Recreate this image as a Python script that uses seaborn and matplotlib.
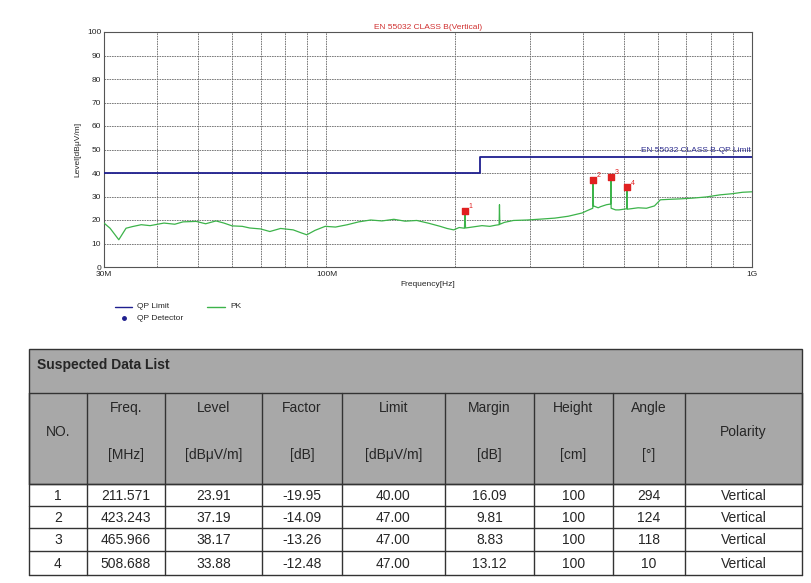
import matplotlib
matplotlib.use("Agg")
import matplotlib.pyplot as plt
import seaborn as sns
import pandas as pd
import numpy as np
from matplotlib.patches import Rectangle
from matplotlib.ticker import FixedLocator, NullFormatter

sns.set_style("white")
plt.rcParams['font.family'] = ['Liberation Sans', 'DejaVu Sans']

# PK trace (MHz, dBuV/m)
pk_freq = [30, 31, 32.5, 33.8, 35, 36.7, 38.5, 41.5, 44, 46, 49.4, 52, 55, 57.4, 60, 63.4, 66, 70, 73.6,
           78, 83.5, 87, 89.9, 94, 99.3, 105, 112, 119, 127, 135, 144, 153, 163, 174, 185, 192, 199,
           205, 211.0, 211.571, 212.2, 220, 232, 242, 250, 254.5, 255, 255.5, 262, 275, 296, 320, 344,
           370, 399, 410, 422.5, 423.243, 424, 435, 441, 455, 465.3, 465.966, 466.6, 478, 487, 500,
           508.0, 508.688, 509.4, 520, 540, 565, 590, 609, 640, 680, 724, 780, 841, 900, 950, 1000]
pk_level = [18.7, 16.5, 11.6, 16.5, 17.2, 18.0, 17.6, 18.7, 18.2, 19.2, 19.4, 18.4, 19.6, 18.7, 17.5, 17.3, 16.6, 16.2, 15.1,
            16.4, 15.8, 14.6, 13.7, 15.6, 17.3, 17.0, 18.0, 19.2, 20.0, 19.6, 20.3, 19.5, 19.8, 18.6, 17.3, 16.4, 15.8,
            16.8, 16.5, 23.9, 16.6, 17.0, 17.6, 17.3, 17.8, 18.0, 26.5, 18.2, 19.0, 19.8, 20.0, 20.4, 20.8,
            21.6, 23.0, 24.0, 25.0, 37.2, 26.0, 25.2, 25.7, 26.5, 26.8, 38.2, 25.0, 24.3, 24.3, 24.6,
            24.8, 33.9, 24.6, 24.8, 25.2, 25.0, 26.0, 28.6, 28.8, 29.0, 29.3, 29.8, 30.7, 31.2, 31.8, 32.0]

limit_freq = [30, 230, 230, 1000]
limit_level = [40, 40, 47, 47]

mk_no = ["1", "2", "3", "4"]
mk_freq = [211.571, 423.243, 465.966, 508.688]
mk_level = [23.91, 37.19, 38.17, 33.88]
mk_factor = ["-19.95", "-14.09", "-13.26", "-12.48"]
mk_limit = ["40.00", "47.00", "47.00", "47.00"]
mk_margin = ["16.09", "9.81", "8.83", "13.12"]
mk_height = ["100", "100", "100", "100"]
mk_angle = ["294", "124", "118", "10"]
mk_pol = ["Vertical", "Vertical", "Vertical", "Vertical"]

headers_top = ["NO.", "Freq.", "Level", "Factor", "Limit", "Margin", "Height", "Angle", "Polarity"]
headers_bot = ["", "[MHz]", "[dBμV/m]", "[dB]", "[dBμV/m]", "[dB]", "[cm]", "[°]", ""]

W, H = 812, 583
fig = plt.figure(figsize=(W / 100, H / 100), dpi=100)

# ---- table (pixel coordinate axes) ----
tb = fig.add_axes([0, 0, 1, 1])
tb.set_xlim(0, W); tb.set_ylim(H, 0); tb.axis("off")
cols = [29, 87, 165, 262, 342, 445, 534, 613, 685, 802]
rows = [349, 393, 484, 506, 528, 551, 575]
gray = "#a8a8a8"
tb.add_patch(Rectangle((cols[0], rows[0]), cols[-1] - cols[0], rows[2] - rows[0], fc=gray, ec="#333", lw=1))
tb.text(cols[0] + 8, (rows[0] + rows[1]) / 2 - 6, "Suspected Data List", fontsize=10, fontweight="bold", va="center")
tb.plot([cols[0], cols[-1]], [rows[1], rows[1]], color="#333", lw=1)
for c in cols:
    tb.plot([c, c], [rows[1], rows[-1]], color="#333", lw=1)
for r in rows[2:]:
    tb.plot([cols[0], cols[-1]], [r, r], color="#333", lw=1)
for i in range(9):
    cx = (cols[i] + cols[i + 1]) / 2
    if headers_bot[i]:
        tb.text(cx, 408, headers_top[i], ha="center", va="center", fontsize=10)
        tb.text(cx, 455, headers_bot[i], ha="center", va="center", fontsize=10)
    else:
        tb.text(cx, 432, headers_top[i], ha="center", va="center", fontsize=10)
data_cols = [mk_no, [f"{v:.3f}" for v in mk_freq], [f"{v:.2f}" for v in mk_level], mk_factor,
             mk_limit, mk_margin, mk_height, mk_angle, mk_pol]
for j in range(4):
    cy = (rows[2 + j] + rows[3 + j]) / 2 + 1
    for i in range(9):
        tb.text((cols[i] + cols[i + 1]) / 2, cy, data_cols[i][j], ha="center", va="center", fontsize=10)

# ---- chart ----
ax = fig.add_axes([104 / W, 1 - 267 / H, (752 - 104) / W, (267 - 32) / H])
pk = pd.DataFrame({"f": pk_freq, "lvl": pk_level})
lim = pd.DataFrame({"f": limit_freq, "lvl": limit_level})
sns.lineplot(data=lim, x="f", y="lvl", ax=ax, color="#1f1f8f", lw=1.3, legend=False,
             sort=False, estimator=None, zorder=3)
sns.lineplot(data=pk, x="f", y="lvl", ax=ax, color="#3cb34a", lw=0.9, legend=False,
             sort=False, estimator=None, zorder=3)
ax.scatter(mk_freq, mk_level, marker="s", s=22, color="#e02020", zorder=5)
for n, f, l in zip(mk_no, mk_freq, mk_level):
    ax.text(f * 1.02, l + 1.2, n, fontsize=5, color="#e02020")
ax.set_xscale("log")
ax.set_xlim(30, 1000); ax.set_ylim(0, 100)
ax.xaxis.set_major_locator(FixedLocator([30, 100, 1000]))
ax.set_xticklabels(["30M", "100M", "1G"], fontsize=6)
ax.xaxis.set_minor_locator(FixedLocator([40, 50, 60, 70, 80, 90, 200, 300, 400, 500, 600, 700, 800, 900]))
ax.xaxis.set_minor_formatter(NullFormatter())
ax.set_yticks(range(0, 101, 10))
ax.tick_params(axis="y", labelsize=6, length=0, pad=2)
ax.tick_params(axis="x", which="both", length=0, pad=3)
ax.grid(True, which="both", color="#666", ls=(0, (2, 1)), lw=0.6)
ax.set_xlabel("Frequency[Hz]", fontsize=6, labelpad=2)
ax.set_ylabel("Level[dBμV/m]", fontsize=6, labelpad=4)
for s in ax.spines.values():
    s.set_color("#555"); s.set_linewidth(0.8)
ax.set_title("EN 55032 CLASS B(Vertical)", fontsize=6, color="#d03030", pad=2)
ax.text(995, 48, "EN 55032 CLASS B-QP Limit", fontsize=6, color="#303090", ha="right", va="bottom")

# legend
lg = fig.add_axes([0, 0, 1, 1], facecolor="none"); lg.set_xlim(0, W); lg.set_ylim(H, 0); lg.axis("off")
lg.plot([115, 132], [307, 307], color="#1f1f8f", lw=1)
lg.text(137, 307, "QP Limit", fontsize=6, va="center")
lg.plot([207, 225], [307, 307], color="#3cb34a", lw=1)
lg.text(230, 307, "PK", fontsize=6, va="center")
lg.plot([124], [318], "o", color="#1f1f8f", ms=2.5)
lg.text(137, 318, "QP Detector", fontsize=6, va="center")

fig.savefig("out.png", dpi=100)
